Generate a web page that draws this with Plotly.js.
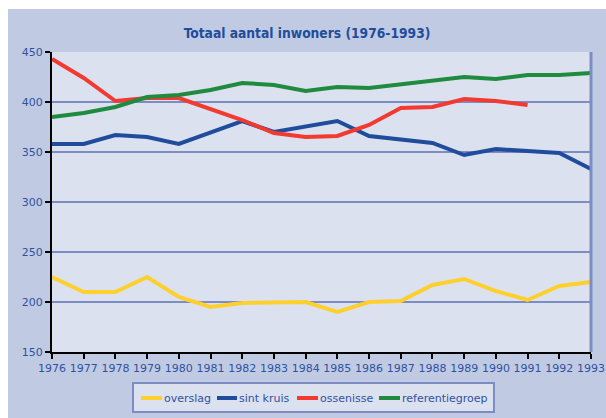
<!DOCTYPE html>
<html><head><meta charset="utf-8">
<script src="https://cdn.plot.ly/plotly-3.0.1.min.js"></script>
<style>html,body{margin:0;padding:0;background:#fff;width:606px;height:418px;overflow:hidden}
#chart{position:absolute;left:8px;top:9px;width:598px;height:409px}</style>
</head><body><div id="chart"></div>
<script>
const years = [1976,1977,1978,1979,1980,1981,1982,1983,1984,1985,1986,1987,1988,1989,1990,1991,1992,1993];
const overslag = [225,210,210,225,205,195,199,200,200,190,200,201,217,223,211,202,216,220];
const sintKruis = [358,358,367,365,358,369,381,370,376,381,366,363,359,347,353,351,349,333];
const ossenisse = [443,424,401,404,404,393,382,369,365,366,377,394,395,403,401,397];
const referentiegroep = [385,389,395,405,407,412,419,417,411,415,414,418,421,425,423,427,427,429];
const yTicks = [150,200,250,300,350,400,450];
const seriesNames = ['overslag','sint kruis','ossenisse','referentiegroep'];
const seriesColors = ['#fdd02e','#1f4d9b','#f23a31','#1e8b3f'];
const seriesValues = [overslag, sintKruis, ossenisse, referentiegroep];

const txt = '#2f52a0';
const grid = '#7d8cc2';
const M = {l:44, r:15, t:43, b:66};
const W = 598, H = 409;
const PW = W - M.l - M.r, PH = H - M.t - M.b;
const px = d => (d - M.l) / PW;
const py = d => (H - M.b - d) / PH;

const data = seriesNames.map((n, i) => ({
  x: years.slice(0, seriesValues[i].length), y: seriesValues[i], name: n,
  type:'scatter', mode:'lines', line:{color: seriesColors[i], width: 4}
}));

// legend drawn manually (position in px of the figure)
const legSym = [[133,154],[209,229],[289,310],[371,392]];
const legText = [155,230,311,393];
const legY = 389;
const shapes = [
  {type:'line', xref:'paper', yref:'paper', x0:1, x1:1, y0:0, y1:1, line:{color:grid, width:3}},
  {type:'rect', xref:'paper', yref:'paper', x0:px(125), x1:px(486), y0:py(374), y1:py(403),
    fillcolor:'#dce1f0', line:{color:grid, width:2}}
];
const annotations = [];
seriesNames.forEach((n, i) => {
  shapes.push({type:'line', xref:'paper', yref:'paper', x0:px(legSym[i][0]), x1:px(legSym[i][1]),
    y0:py(legY), y1:py(legY), line:{color:seriesColors[i], width:4}});
  annotations.push({xref:'paper', yref:'paper', x:px(legText[i]-1), y:py(legY), xanchor:'left', yanchor:'middle',
    text:n, showarrow:false, font:{size:11, color:txt}});
});

const layout = {
  width:W, height:H,
  paper_bgcolor:'#c0cae3', plot_bgcolor:'#dce1f0',
  margin:M,
  font:{family:'DejaVu Sans, Verdana, sans-serif', size:11, color:txt},
  title:{text:'<b>Totaal aantal inwoners (1976-1993)</b>', font:{family:'DejaVu Sans Condensed, DejaVu Sans, sans-serif', size:13.7, color:'#1f4d9b'}, x:0.5, xanchor:'center', y:0.942, yanchor:'middle'},
  xaxis:{range:[1976,1993], tickmode:'array', tickvals:years, ticktext:years.map(String),
    showgrid:false, zeroline:false, showline:true, linecolor:'#000', linewidth:2,
    ticks:'outside', ticklen:5, tickcolor:'#000', tickwidth:2, tickangle:0, fixedrange:true},
  yaxis:{range:[150,450], tickmode:'array', tickvals:yTicks, ticktext:yTicks.map(String),
    showgrid:true, gridcolor:grid, gridwidth:2, zeroline:false, showline:true, linecolor:'#000', linewidth:2,
    ticks:'outside', ticklen:5, tickcolor:'#000', tickwidth:2, fixedrange:true},
  shapes:shapes,
  annotations:annotations,
  showlegend:false
};
Plotly.newPlot('chart', data, layout, {displayModeBar:false, staticPlot:true});
</script></body></html>
